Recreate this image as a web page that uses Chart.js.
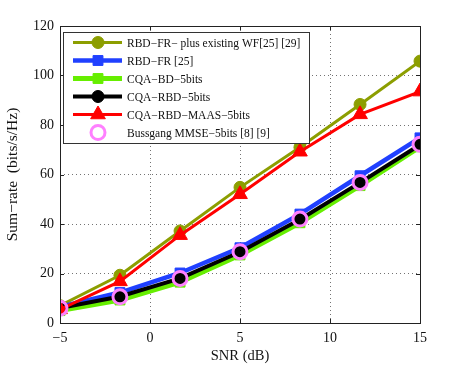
<!DOCTYPE html>
<html>
<head>
<meta charset="utf-8">
<script src="https://cdn.jsdelivr.net/npm/chart.js@4.4.0/dist/chart.umd.min.js"></script>
<style>
  html, body { margin: 0; padding: 0; background: #fff; }
  #wrap { width: 463px; height: 365px; }
</style>
</head>
<body>
<div id="wrap"><canvas id="myChart" width="463" height="365"></canvas></div>
<script>
// values
var snr = [-5, -1.67, 1.67, 5, 8.33, 11.67, 15];
var xTicks = [-5, 0, 5, 10, 15];
var yTicks = [0, 20, 40, 60, 80, 100, 120];

var rbdFrWf    = [7, 19.3, 37.2, 54.8, 71, 88.3, 105.8];
var rbdFr      = [6.5, 12.3, 20.2, 30.4, 44, 59.5, 74.8];
var cqaBd      = [5, 9.3, 16.5, 27.5, 40.5, 55.5, 71.2];
var cqaRbd     = [6, 10.7, 18, 28.7, 41.8, 56.7, 72];
var cqaRbdMaas = [5.5, 16.8, 35.5, 52, 69.2, 84.3, 93.5];
var bussgang   = [6, 10.6, 18, 28.8, 42, 56.8, 72.2];

var seriesNames = [
  "RBD\u2212FR\u2212 plus existing WF[25] [29]",
  "RBD\u2212FR [25]",
  "CQA\u2212BD\u22125bits",
  "CQA\u2212RBD\u22125bits",
  "CQA\u2212RBD\u2212MAAS\u22125bits",
  "Bussgang MMSE\u22125bits [8] [9]"
];

function pts(vals) {
  return snr.map(function (x, i) { return { x: x, y: vals[i] }; });
}

var serif = "'Liberation Serif', 'Times New Roman', serif";

var datasets = [
  { label: seriesNames[0], data: pts(rbdFrWf), borderColor: "#8c9e00", backgroundColor: "#8c9e00",
    borderWidth: 3, pointStyle: "circle", pointRadius: 6, pointBorderWidth: 1, order: 6 },
  { label: seriesNames[1], data: pts(rbdFr), borderColor: "#2040ff", backgroundColor: "#2040ff",
    borderWidth: 4.5, pointStyle: "rect", pointRadius: 7, pointBorderWidth: 1, order: 5 },
  { label: seriesNames[2], data: pts(cqaBd), borderColor: "#66ee00", backgroundColor: "#66ee00",
    borderWidth: 5, pointStyle: "rect", pointRadius: 7, pointBorderWidth: 1, order: 4 },
  { label: seriesNames[3], data: pts(cqaRbd), borderColor: "#000000", backgroundColor: "#000000",
    borderWidth: 4, pointStyle: "circle", pointRadius: 6, pointBorderWidth: 1, order: 3 },
  { label: seriesNames[4], data: pts(cqaRbdMaas), borderColor: "#ff0000", backgroundColor: "#ff0000",
    borderWidth: 3, pointStyle: "triangle", pointRadius: 8.5, pointBorderWidth: 1, order: 2 },
  { label: seriesNames[5], data: pts(bussgang), borderColor: "#ff80ff", backgroundColor: "rgba(0,0,0,0)",
    borderWidth: 3, showLine: false, pointStyle: "circle", pointRadius: 7, pointBorderWidth: 3, order: 1 }
];

// matlab style box with inward ticks
var framePlugin = {
  id: "frame",
  afterDatasetsDraw: function (chart) {
    var ctx = chart.ctx, a = chart.chartArea;
    var xs = chart.scales.x, ys = chart.scales.y;
    ctx.save();
    ctx.strokeStyle = "#222";
    ctx.lineWidth = 1;
    ctx.strokeRect(Math.round(a.left) + 0.5, Math.round(a.top) + 0.5,
      Math.round(a.right - a.left), Math.round(a.bottom - a.top));
    ctx.beginPath();
    xTicks.forEach(function (t) {
      var px = Math.round(xs.getPixelForValue(t)) + 0.5;
      ctx.moveTo(px, a.bottom); ctx.lineTo(px, a.bottom - 4);
      ctx.moveTo(px, a.top); ctx.lineTo(px, a.top + 4);
    });
    yTicks.forEach(function (t) {
      var py = Math.round(ys.getPixelForValue(t)) + 0.5;
      ctx.moveTo(a.left, py); ctx.lineTo(a.left + 4, py);
      ctx.moveTo(a.right, py); ctx.lineTo(a.right - 4, py);
    });
    ctx.stroke();
    ctx.restore();
  }
};

// legend box inside the plot, upper left
var boxLegend = {
  id: "boxLegend",
  afterDraw: function (chart) {
    var ctx = chart.ctx;
    var x0 = 63, y0 = 32, w = 246, h = 111;
    ctx.save();
    ctx.fillStyle = "#fff";
    ctx.fillRect(x0, y0, w, h);
    ctx.strokeStyle = "#333";
    ctx.lineWidth = 1;
    ctx.strokeRect(x0 + 0.5, y0 + 0.5, w, h);
    ctx.font = "11.5px " + serif;
    ctx.textBaseline = "middle";
    chart.data.datasets.forEach(function (ds, i) {
      var y = y0 + 10.5 + i * 18;
      if (ds.showLine !== false) {
        ctx.strokeStyle = ds.borderColor;
        ctx.lineWidth = ds.borderWidth;
        ctx.beginPath();
        ctx.moveTo(73, y); ctx.lineTo(122, y);
        ctx.stroke();
      }
      ctx.fillStyle = ds.backgroundColor;
      ctx.strokeStyle = ds.borderColor;
      ctx.lineWidth = ds.pointBorderWidth;
      Chart.helpers.drawPoint(ctx, {
        pointStyle: ds.pointStyle, radius: ds.pointRadius, rotation: 0, borderWidth: ds.pointBorderWidth
      }, 98, y);
      ctx.fillStyle = "#111";
      ctx.fillText(ds.label, 127, y + 1);
    });
    ctx.restore();
  }
};

var ctx = document.getElementById("myChart");

var chart = new Chart(ctx, {
  type: "line",
  data: { datasets: datasets },
  plugins: [framePlugin, boxLegend],
  options: {
    responsive: false,
    devicePixelRatio: 1,
    animation: false,
    layout: { padding: { top: 26, right: 43, bottom: 0, left: 0 } },
    plugins: {
      legend: { display: false },
      tooltip: { enabled: false }
    },
    scales: {
      x: {
        type: "linear",
        min: -5,
        max: 15,
        afterBuildTicks: function (scale) {
          scale.ticks = xTicks.map(function (v) { return { value: v }; });
        },
        afterFit: function (scale) { scale.height = 42; },
        grid: { color: "rgba(0,0,0,0.55)", drawTicks: false },
        border: { display: false, dash: [1, 3] },
        ticks: {
          padding: 7,
          color: "#111",
          font: { family: serif, size: 14 },
          callback: function (v) { return String(v).replace("-", "\u2212"); }
        },
        title: {
          display: true,
          text: "SNR (dB)",
          color: "#111",
          font: { family: serif, size: 14.5 },
          padding: { top: 1, bottom: 0 }
        }
      },
      y: {
        min: 0,
        max: 120,
        afterBuildTicks: function (scale) {
          scale.ticks = yTicks.map(function (v) { return { value: v }; });
        },
        afterFit: function (scale) { scale.width = 60; },
        grid: { color: "rgba(0,0,0,0.55)", drawTicks: false },
        border: { display: false, dash: [1, 3] },
        ticks: {
          padding: 6,
          color: "#111",
          font: { family: serif, size: 14 }
        },
        title: {
          display: true,
          text: "Sum\u2212rate  (bits/s/Hz)",
          color: "#111",
          font: { family: serif, size: 15.5 },
          padding: { top: 4, bottom: 0 }
        }
      }
    }
  }
});
</script>
</body>
</html>
